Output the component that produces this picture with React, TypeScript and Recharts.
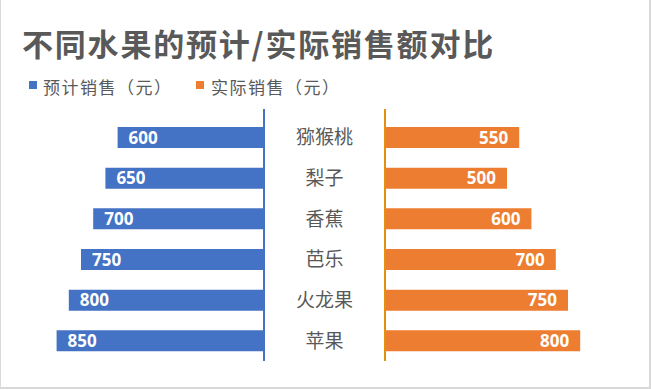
import React from 'react';
import { BarChart, Bar, XAxis, YAxis, LabelList } from 'recharts';

const categories = ['猕猴桃', '梨子', '香蕉', '芭乐', '火龙果', '苹果'];
const plannedSales = [600, 650, 700, 750, 800, 850];
const actualSales = [550, 500, 600, 700, 750, 800];
const seriesNames = ['预计销售（元）', '实际销售（元）'];
const titleText = '不同水果的预计/实际销售额对比';

const data = categories.map((name, i) => ({ name, planned: plannedSales[i], actual: actualSales[i] }));

const BLUE = '#4472C4';
const ORANGE = '#ED7D31';
const ORANGE_AXIS = '#E3900E';
const GRAY = '#595959';
const CJK = '"Noto Sans CJK SC", "Noto Sans", sans-serif';
const NUM_FONT = '"Noto Sans", "Open Sans", sans-serif';
const MID_W = 121;

const getBox = (p: any) => {
  const vb = p.viewBox && typeof p.viewBox.x === 'number' ? p.viewBox : p;
  return { x: Number(vb.x), y: Number(vb.y), width: Number(vb.width), height: Number(vb.height) };
};

const LeftLabel = (props: any) => {
  const { x, y, width, height } = getBox(props);
  const left = Math.min(x, x + width);
  return (
    <text x={left + 11} y={y + height / 2 + 6} fill="#fff" fontSize={17} fontWeight="bold" fontFamily={NUM_FONT} textAnchor="start">
      {props.value}
    </text>
  );
};

const RightLabel = (props: any) => {
  const { x, y, width, height } = getBox(props);
  const right = Math.max(x, x + width);
  return (
    <text x={right - 11} y={y + height / 2 + 6} fill="#fff" fontSize={17} fontWeight="bold" fontFamily={NUM_FONT} textAnchor="end">
      {props.value}
    </text>
  );
};

const CatTick = (props: any) => {
  const { y, payload } = props;
  return (
    <text x={MID_W / 2} y={y + 7} fill={GRAY} fontSize={19} fontFamily={CJK} textAnchor="middle">
      {payload.value}
    </text>
  );
};

export default function App() {
  return (
    <div style={{ position: 'absolute', left: 0, top: 0, width: 651, height: 390, background: '#fff', overflow: 'hidden' }}>
      <div
        style={{
          position: 'absolute', left: 22, top: 27, fontFamily: CJK, fontWeight: 'bold', fontSize: 31,
          lineHeight: '31px', color: GRAY, whiteSpace: 'nowrap', letterSpacing: 1.8,
        }}
      >
        {titleText}
      </div>
      <div style={{ position: 'absolute', left: 29, top: 81, width: 8, height: 8, background: BLUE }} />
      <div style={{ position: 'absolute', left: 43, top: 78, fontFamily: CJK, fontSize: 17, lineHeight: '17px', color: GRAY, whiteSpace: 'nowrap', letterSpacing: 1.5 }}>
        {seriesNames[0]}
      </div>
      <div style={{ position: 'absolute', left: 196, top: 81, width: 8, height: 8, background: ORANGE }} />
      <div style={{ position: 'absolute', left: 211, top: 78, fontFamily: CJK, fontSize: 17, lineHeight: '17px', color: GRAY, whiteSpace: 'nowrap', letterSpacing: 1.5 }}>
        {seriesNames[1]}
      </div>

      <div style={{ position: 'absolute', left: 0, top: 0 }}>
        <BarChart width={265} height={390} data={data} layout="vertical" margin={{ top: 109, right: 0, bottom: 29, left: 20 }}>
          <XAxis type="number" domain={[0, 1000]} reversed hide />
          <YAxis
            type="category"
            dataKey="name"
            orientation="right"
            width={1}
            tick={false}
            tickLine={false}
            axisLine={{ stroke: BLUE, strokeWidth: 2 }}
            padding={{ top: 8, bottom: 0 }}
          />
          <Bar dataKey="planned" name={seriesNames[0]} fill={BLUE} barSize={21} isAnimationActive={false}>
            <LabelList dataKey="planned" content={LeftLabel} />
          </Bar>
        </BarChart>
      </div>

      <div style={{ position: 'absolute', left: 264, top: 0 }}>
        <BarChart width={387} height={390} data={data} layout="vertical" margin={{ top: 109, right: 22, bottom: 29, left: 0 }}>
          <XAxis type="number" domain={[0, 1000]} hide />
          <YAxis
            type="category"
            dataKey="name"
            orientation="left"
            width={MID_W}
            tick={CatTick}
            tickLine={false}
            axisLine={{ stroke: ORANGE_AXIS, strokeWidth: 2 }}
            padding={{ top: 8, bottom: 0 }}
          />
          <Bar dataKey="actual" name={seriesNames[1]} fill={ORANGE} barSize={21} isAnimationActive={false}>
            <LabelList dataKey="actual" content={RightLabel} />
          </Bar>
        </BarChart>
      </div>

      <div
        style={{
          position: 'absolute', left: 0, top: -1, width: 651, height: 390, boxSizing: 'border-box',
          borderLeft: '1px solid #d9d9d9', borderRight: '2px solid #d9d9d9', borderBottom: '2px solid #d9d9d9', pointerEvents: 'none',
        }}
      />
    </div>
  );
}
